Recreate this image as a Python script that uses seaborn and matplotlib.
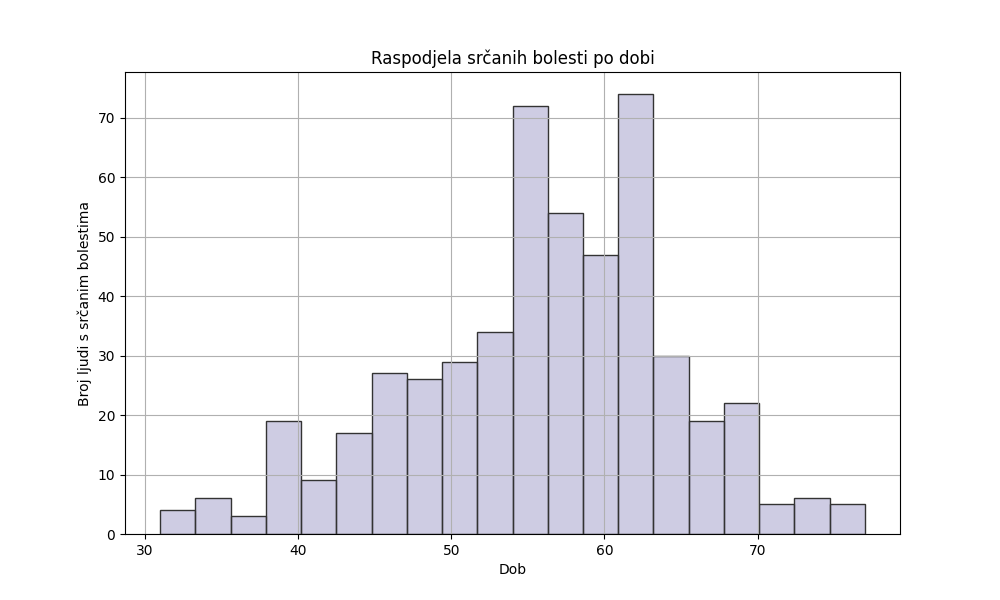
import numpy as np
import pandas as pd
import matplotlib
matplotlib.use("Agg")
import matplotlib.pyplot as plt
import seaborn as sns

# bin edges of the age histogram (20 bins between 31 and 77)
age_min = 31
age_max = 77
n_bins = 20
counts = [4, 6, 3, 19, 9, 17, 27, 26, 29, 34, 72, 54, 47, 74, 30, 19, 22, 5, 6, 5]

edges = np.linspace(age_min, age_max, n_bins + 1)
df = pd.DataFrame({"dob": (edges[:-1] + edges[1:]) / 2, "broj": counts})

plt.figure(figsize=(10, 6))
sns.histplot(data=df, x="dob", weights="broj", bins=list(edges), color="#9e9ac8",
             alpha=0.5, edgecolor="#333333", linewidth=1.0)
plt.title("Raspodjela srčanih bolesti po dobi")
plt.xlabel("Dob")
plt.ylabel("Broj ljudi s srčanim bolestima")
plt.grid(True)
plt.savefig("out.png", dpi=100)
